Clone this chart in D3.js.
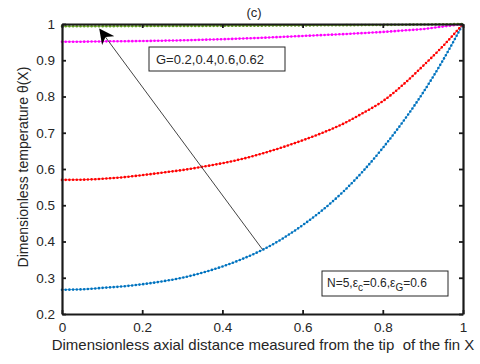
<!DOCTYPE html>
<html>
<head>
<meta charset="utf-8">
<script src="https://cdn.jsdelivr.net/npm/d3@7"></script>
<style>
  body { margin: 0; background: #fff; }
  text { font-family: "Liberation Sans", Arial, sans-serif; fill: #262626; }
</style>
</head>
<body>
<svg id="chart" width="480" height="364"></svg>
<script>
// Data
var xVals = [0, 0.05, 0.1, 0.15, 0.2, 0.25, 0.3, 0.35, 0.4, 0.45, 0.5,
             0.55, 0.6, 0.65, 0.7, 0.75, 0.8, 0.85, 0.9, 0.95, 1];
var thetaG02 = [0.994, 0.994, 0.994, 0.9942, 0.9943, 0.9945, 0.9947, 0.9948, 0.995, 0.9952, 0.9955,
                0.9958, 0.996, 0.9964, 0.9967, 0.997, 0.9975, 0.998, 0.9985, 0.9992, 1];
var thetaG04 = [0.951, 0.9512, 0.952, 0.9525, 0.953, 0.954, 0.955, 0.9565, 0.958, 0.96, 0.962,
                0.9645, 0.967, 0.9695, 0.972, 0.975, 0.978, 0.982, 0.986, 0.993, 1];
var thetaG06 = [0.570, 0.5705, 0.573, 0.577, 0.583, 0.590, 0.597, 0.606, 0.616, 0.628, 0.643,
                0.660, 0.679, 0.700, 0.724, 0.754, 0.787, 0.832, 0.884, 0.939, 1];
var thetaG062 = [0.267, 0.268, 0.272, 0.276, 0.282, 0.290, 0.300, 0.314, 0.331, 0.352, 0.377,
                 0.408, 0.445, 0.487, 0.536, 0.593, 0.658, 0.730, 0.810, 0.900, 1];
var xTicks = [0, 0.2, 0.4, 0.6, 0.8, 1];
var yTicks = [0.2, 0.3, 0.4, 0.5, 0.6, 0.7, 0.8, 0.9, 1];

var svg = d3.select("#chart");

// Dimensions
var dim = { left: 62, right: 463, top: 24, bottom: 314 };

var xScale = d3.scaleLinear().domain([0, 1]).range([dim.left, dim.right]);
var yScale = d3.scaleLinear().domain([0.2, 1]).range([dim.bottom, dim.top]);

// Series settings
var series = [
  { vals: thetaG062, line: "#4aa3df", dot: "#0072BD" },
  { vals: thetaG06,  line: "#ff4040", dot: "#ff0000" },
  { vals: thetaG04,  line: "#ff40ff", dot: "#ff00ff" },
  { vals: thetaG02,  line: "#77AC30", dot: "#5f9a20" }
];

var line = d3.line()
  .x(function(d, i) { return xScale(xVals[i]); })
  .y(function(d) { return yScale(d); })
  .curve(d3.curveMonotoneX);

var plot = svg.append("g");
series.forEach(function(s) {
  plot.append("path")
      .datum(s.vals)
      .attr("fill", "none")
      .attr("stroke", s.line)
      .attr("stroke-width", 1)
      .attr("d", line);
  // dotted overlay imitating the '.' markers
  plot.append("path")
      .datum(s.vals)
      .attr("fill", "none")
      .attr("stroke", s.dot)
      .attr("stroke-width", 2.6)
      .attr("stroke-linecap", "round")
      .attr("stroke-dasharray", "0,3.7")
      .attr("d", line);
});

// Axes (box with mirrored inward ticks)
var xAxisB = d3.axisBottom(xScale).tickValues(xTicks).tickSizeInner(-4).tickSizeOuter(0).tickPadding(8)
  .tickFormat(function(d) { return d === 0 || d === 1 ? d : d3.format(".1f")(d); });
var xAxisT = d3.axisTop(xScale).tickValues(xTicks).tickSizeInner(-4).tickSizeOuter(0).tickFormat("");
var yAxisL = d3.axisLeft(yScale).tickValues(yTicks).tickSizeInner(-4).tickSizeOuter(0).tickPadding(7)
  .tickFormat(function(d) { return d === 1 ? "1" : d3.format(".1f")(d); });
var yAxisR = d3.axisRight(yScale).tickValues(yTicks).tickSizeInner(-4).tickSizeOuter(0).tickFormat("");

function styleAxis(g) {
  g.select(".domain").attr("stroke", "#1a1a1a").attr("stroke-width", 2.2);
  g.selectAll(".tick line").attr("stroke", "#1a1a1a").attr("stroke-width", 1.8);
  g.selectAll(".tick text").attr("font-size", 13.5).attr("fill", "#333");
}

svg.append("g").attr("transform", "translate(0," + dim.bottom + ")").call(xAxisB).call(styleAxis);
svg.append("g").attr("transform", "translate(0," + dim.top + ")").call(xAxisT).call(styleAxis);
svg.append("g").attr("transform", "translate(" + dim.left + ",0)").call(yAxisL).call(styleAxis);
svg.append("g").attr("transform", "translate(" + dim.right + ",0)").call(yAxisR).call(styleAxis);

// Title and labels
svg.append("text").attr("x", 254).attr("y", 17).attr("text-anchor", "middle")
   .attr("font-size", 13).text("(c)");
svg.append("text").attr("x", 263).attr("y", 349.5).attr("text-anchor", "middle")
   .attr("font-size", 15).attr("fill", "#262626")
   .text("Dimensionless axial distance measured from the tip\u00a0\u00a0of the fin X");
svg.append("text").attr("transform", "translate(28,167) rotate(-90)").attr("text-anchor", "middle")
   .attr("font-size", 14).text("Dimensionless temperature \u03b8(X)");

// Arrow annotation
svg.append("defs").append("marker")
   .attr("id", "head").attr("viewBox", "0 0 10 10").attr("refX", 9).attr("refY", 5)
   .attr("markerWidth", 15).attr("markerHeight", 15).attr("markerUnits", "userSpaceOnUse")
   .attr("orient", "auto")
   .append("path").attr("d", "M0,0 L10,5 L0,10 L3,5 Z").attr("fill", "#000");
svg.append("line")
   .attr("x1", xScale(0.5)).attr("y1", yScale(0.378))
   .attr("x2", xScale(0.095)).attr("y2", yScale(0.984))
   .attr("stroke", "#444").attr("stroke-width", 1)
   .attr("marker-end", "url(#head)");

// Text boxes
function textBox(x, y, w, h) {
  svg.append("rect").attr("x", x).attr("y", y).attr("width", w).attr("height", h)
     .attr("fill", "#fff").attr("stroke", "#262626").attr("stroke-width", 1);
}
textBox(149, 47, 136, 24);
svg.append("text").attr("x", 156).attr("y", 64).attr("font-size", 13).text("G=0.2,0.4,0.6,0.62");

textBox(322, 271, 126, 25);
var t2 = svg.append("text").attr("x", 327).attr("y", 287).attr("font-size", 12);
t2.append("tspan").text("N=5,\u03b5");
t2.append("tspan").attr("dy", 4).attr("font-size", 10).text("c");
t2.append("tspan").attr("dy", -4).text("=0.6,\u03b5");
t2.append("tspan").attr("dy", 4).attr("font-size", 10).text("G");
t2.append("tspan").attr("dy", -4).text("=0.6");
</script>
</body>
</html>
